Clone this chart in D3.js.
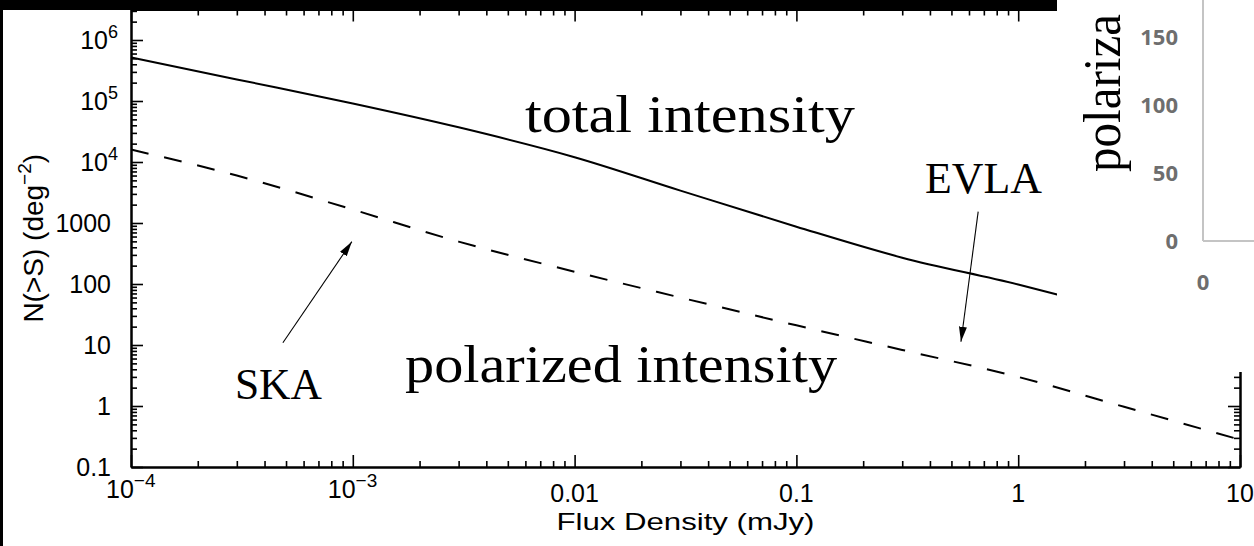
<!DOCTYPE html>
<html><head><meta charset="utf-8">
<script src="https://cdn.jsdelivr.net/npm/d3@7"></script>
<style>html,body{margin:0;padding:0;background:#fff;overflow:hidden}</style>
</head><body><svg id="c" width="1254" height="546"></svg>
<script>
// ---- data ----
const totalFlux   = [1e-4, 3e-4, 1e-3, 3e-3, 1e-2, 3e-2, 0.1, 0.3, 1, 1.5];
const totalCounts = [5.2e5, 2.26e5, 9.1e4, 3.7e4, 1.2e4, 3.4e3, 870, 270, 98, 67];
const polFlux     = [1e-4, 3e-4, 1e-3, 3e-3, 1e-2, 3e-2, 0.1, 0.3, 1, 3, 10];
const polCounts   = [1.6e4, 6.0e3, 1660, 495, 159, 60, 21, 8.3, 3.0, 0.97, 0.28];
const xMajorTicks = [1e-4, 1e-3, 0.01, 0.1, 1, 10];
const xTickLabels = [["10","−4"],["10","−3"],["0.01"],["0.1"],["1"],["10"]];
const yMajorTicks = [0.1, 1, 10, 100, 1000, 1e4, 1e5, 1e6];
const yTickLabels = [["0.1"],["1"],["10"],["100"],["1000"],["10","4"],["10","5"],["10","6"]];
const labelTexts  = ["total intensity", "EVLA", "polarized intensity", "SKA"];
const labelFlux   = [5.97e-3, 0.38, 1.72e-3, 2.94e-4];
const labelCounts = [3.05e4, 3150, 2.49, 1.31];
const arrowFrom   = [[4.84e-4, 10.9], [0.66, 1540]];
const arrowTo     = [[9.9e-4, 495], [0.552, 11.3]];
const insetYTicks = [0, 50, 100, 150];
const insetXTicks = [0];
const insetTitle  = "polariza";

// ---- drawing ----
const svg = d3.select("#c");
const W = 1254, H = 546;
const x = d3.scaleLog().domain([1e-4, 10]).range([131, 1240]);
const y = d3.scaleLog().domain([0.1, Math.pow(10, 6.5)]).range([467, 9.5]);

function minorTicks(lo, hi) {
  const out = [];
  for (let e = Math.floor(Math.log10(lo) + 1e-9); e < Math.log10(hi); e++) {
    for (let k = 2; k <= 9; k++) {
      const v = k * Math.pow(10, e);
      if (v >= lo && v <= hi) out.push(v);
    }
  }
  return out;
}
const xMinor = minorTicks(1e-4, 10);
const yMinor = minorTicks(0.1, Math.pow(10, 6.5));

const gAx = svg.append("g");
function axis(fn, scale, tr, vals, size) {
  const g = gAx.append("g").attr("transform", tr)
    .call(fn(scale).tickValues(vals).tickSize(size).tickSizeOuter(0).tickFormat(""));
  g.select(".domain").attr("stroke-width", 2);
  g.selectAll(".tick line").attr("stroke-width", 1.6);
}
axis(d3.axisBottom, x, "translate(0,467)", xMajorTicks, -12);
axis(d3.axisBottom, x, "translate(0,467)", xMinor, -6);
axis(d3.axisTop, x, "translate(0,9.5)", xMajorTicks, -12);
axis(d3.axisTop, x, "translate(0,9.5)", xMinor, -6);
axis(d3.axisLeft, y, "translate(131,0)", yMajorTicks, -12);
axis(d3.axisLeft, y, "translate(131,0)", yMinor, -6);
axis(d3.axisRight, y, "translate(1240,0)", yMajorTicks, -12);
axis(d3.axisRight, y, "translate(1240,0)", yMinor, -6);

// tick labels
const sans = "'Liberation Sans', Arial, sans-serif";
yMajorTicks.forEach((v, i) => {
  const lab = yTickLabels[i];
  const t = svg.append("text").attr("font-family", sans).attr("font-size", 25)
    .attr("text-anchor", "end").attr("x", lab.length > 1 ? 118 : 111).attr("y", y(v) + 9);
  t.append("tspan").text(lab[0]);
  if (lab.length > 1) t.append("tspan").attr("font-size", 18).attr("dy", -11).text(lab[1]);
});
xMajorTicks.forEach((v, i) => {
  const lab = xTickLabels[i];
  if (lab.length > 1) {
    const t = svg.append("text").attr("font-family", sans).attr("font-size", 25)
      .attr("x", x(v) - 25).attr("y", 498);
    t.append("tspan").text(lab[0]);
    t.append("tspan").attr("font-size", 19).attr("dy", -11).text(lab[1]);
  } else {
    svg.append("text").attr("font-family", sans).attr("font-size", 25)
      .attr("text-anchor", "middle").attr("x", x(v)).attr("y", 502).text(lab[0]);
  }
});

// axis titles
svg.append("text").attr("font-family", sans).attr("font-size", 24)
  .attr("text-anchor", "middle").attr("x", (x.range()[0] + x.range()[1]) / 2).attr("y", 530)
  .attr("textLength", 258).attr("lengthAdjust", "spacingAndGlyphs")
  .text("Flux Density (mJy)");
const yt = svg.append("text").attr("font-family", sans).attr("font-size", 28)
  .attr("text-anchor", "middle")
  .attr("transform", `translate(43,${(y.range()[0] + y.range()[1]) / 2}) rotate(-90)`);
yt.append("tspan").text("N(>S) (deg");
yt.append("tspan").attr("font-size", 19).attr("dy", -12).text("−2");
yt.append("tspan").attr("dy", 12).text(")");

// curves
const line = d3.line().x(d => x(d[0])).y(d => y(d[1])).curve(d3.curveMonotoneX);
svg.append("path").datum(d3.zip(totalFlux, totalCounts)).attr("d", line)
  .attr("fill", "none").attr("stroke", "#000").attr("stroke-width", 2);
svg.append("path").datum(d3.zip(polFlux, polCounts)).attr("d", line)
  .attr("fill", "none").attr("stroke", "#000").attr("stroke-width", 2)
  .attr("stroke-dasharray", "18,16");

// arrows
svg.append("defs").append("marker").attr("id", "ah")
  .attr("markerUnits", "userSpaceOnUse").attr("markerWidth", 16).attr("markerHeight", 10)
  .attr("refX", 15).attr("refY", 4).attr("orient", "auto")
  .append("path").attr("d", "M0,0 L15,4 L0,8 Z").attr("fill", "#000");
arrowFrom.forEach((a, i) => {
  const b = arrowTo[i];
  svg.append("line").attr("x1", x(a[0])).attr("y1", y(a[1]))
    .attr("x2", x(b[0])).attr("y2", y(b[1]))
    .attr("stroke", "#000").attr("stroke-width", 1.1).attr("marker-end", "url(#ah)");
});

// annotation texts
const serif = "'Liberation Serif', 'Times New Roman', serif";
const labelSizes = [52, 44, 53, 44];
const labelLens = [330, 117, 432, 87];
labelTexts.forEach((s, i) => {
  svg.append("text").attr("font-family", serif).attr("font-size", labelSizes[i])
    .attr("x", x(labelFlux[i])).attr("y", y(labelCounts[i]))
    .attr("textLength", labelLens[i]).attr("lengthAdjust", "spacingAndGlyphs")
    .text(s);
});

// ---- overlaid fragment of another chart (top right) ----
svg.append("rect").attr("x", 1057).attr("y", 0).attr("width", W - 1057).attr("height", 372).attr("fill", "#fff");
const ov = svg.append("g");
const insetY = d3.scaleLinear().domain([0, 177]).range([241, 0]);
const insetX = d3.scaleLinear().domain([0, 10]).range([1203, 1500]);
ov.append("line").attr("x1", insetX(0)).attr("x2", insetX(0)).attr("y1", insetY(177)).attr("y2", insetY(0))
  .attr("stroke", "#c4c4c4").attr("stroke-width", 2);
ov.append("line").attr("x1", insetX(0)).attr("x2", W).attr("y1", insetY(0)).attr("y2", insetY(0))
  .attr("stroke", "#c4c4c4").attr("stroke-width", 2);
insetYTicks.forEach(v => {
  ov.append("text").attr("font-family", "'Open Sans', sans-serif").attr("font-weight", 700)
    .attr("font-size", 22).attr("fill", "#6e6e6e").attr("text-anchor", "end")
    .attr("x", 1178).attr("y", insetY(v) + 8).text(v);
});
insetXTicks.forEach(v => {
  ov.append("text").attr("font-family", "'Open Sans', sans-serif").attr("font-weight", 700)
    .attr("font-size", 22).attr("fill", "#6e6e6e").attr("text-anchor", "middle")
    .attr("x", insetX(v)).attr("y", 290).text(v);
});
ov.append("text").attr("font-family", serif).attr("font-size", 52)
  .attr("textLength", 158).attr("lengthAdjust", "spacingAndGlyphs")
  .attr("transform", "translate(1120,172) rotate(-90)").text(insetTitle);

// black frame pieces
svg.append("rect").attr("x", 0).attr("y", 0).attr("width", 1057).attr("height", 10).attr("fill", "#000");
svg.append("rect").attr("x", 0).attr("y", 0).attr("width", 3).attr("height", H).attr("fill", "#000");
</script>
</body></html>
